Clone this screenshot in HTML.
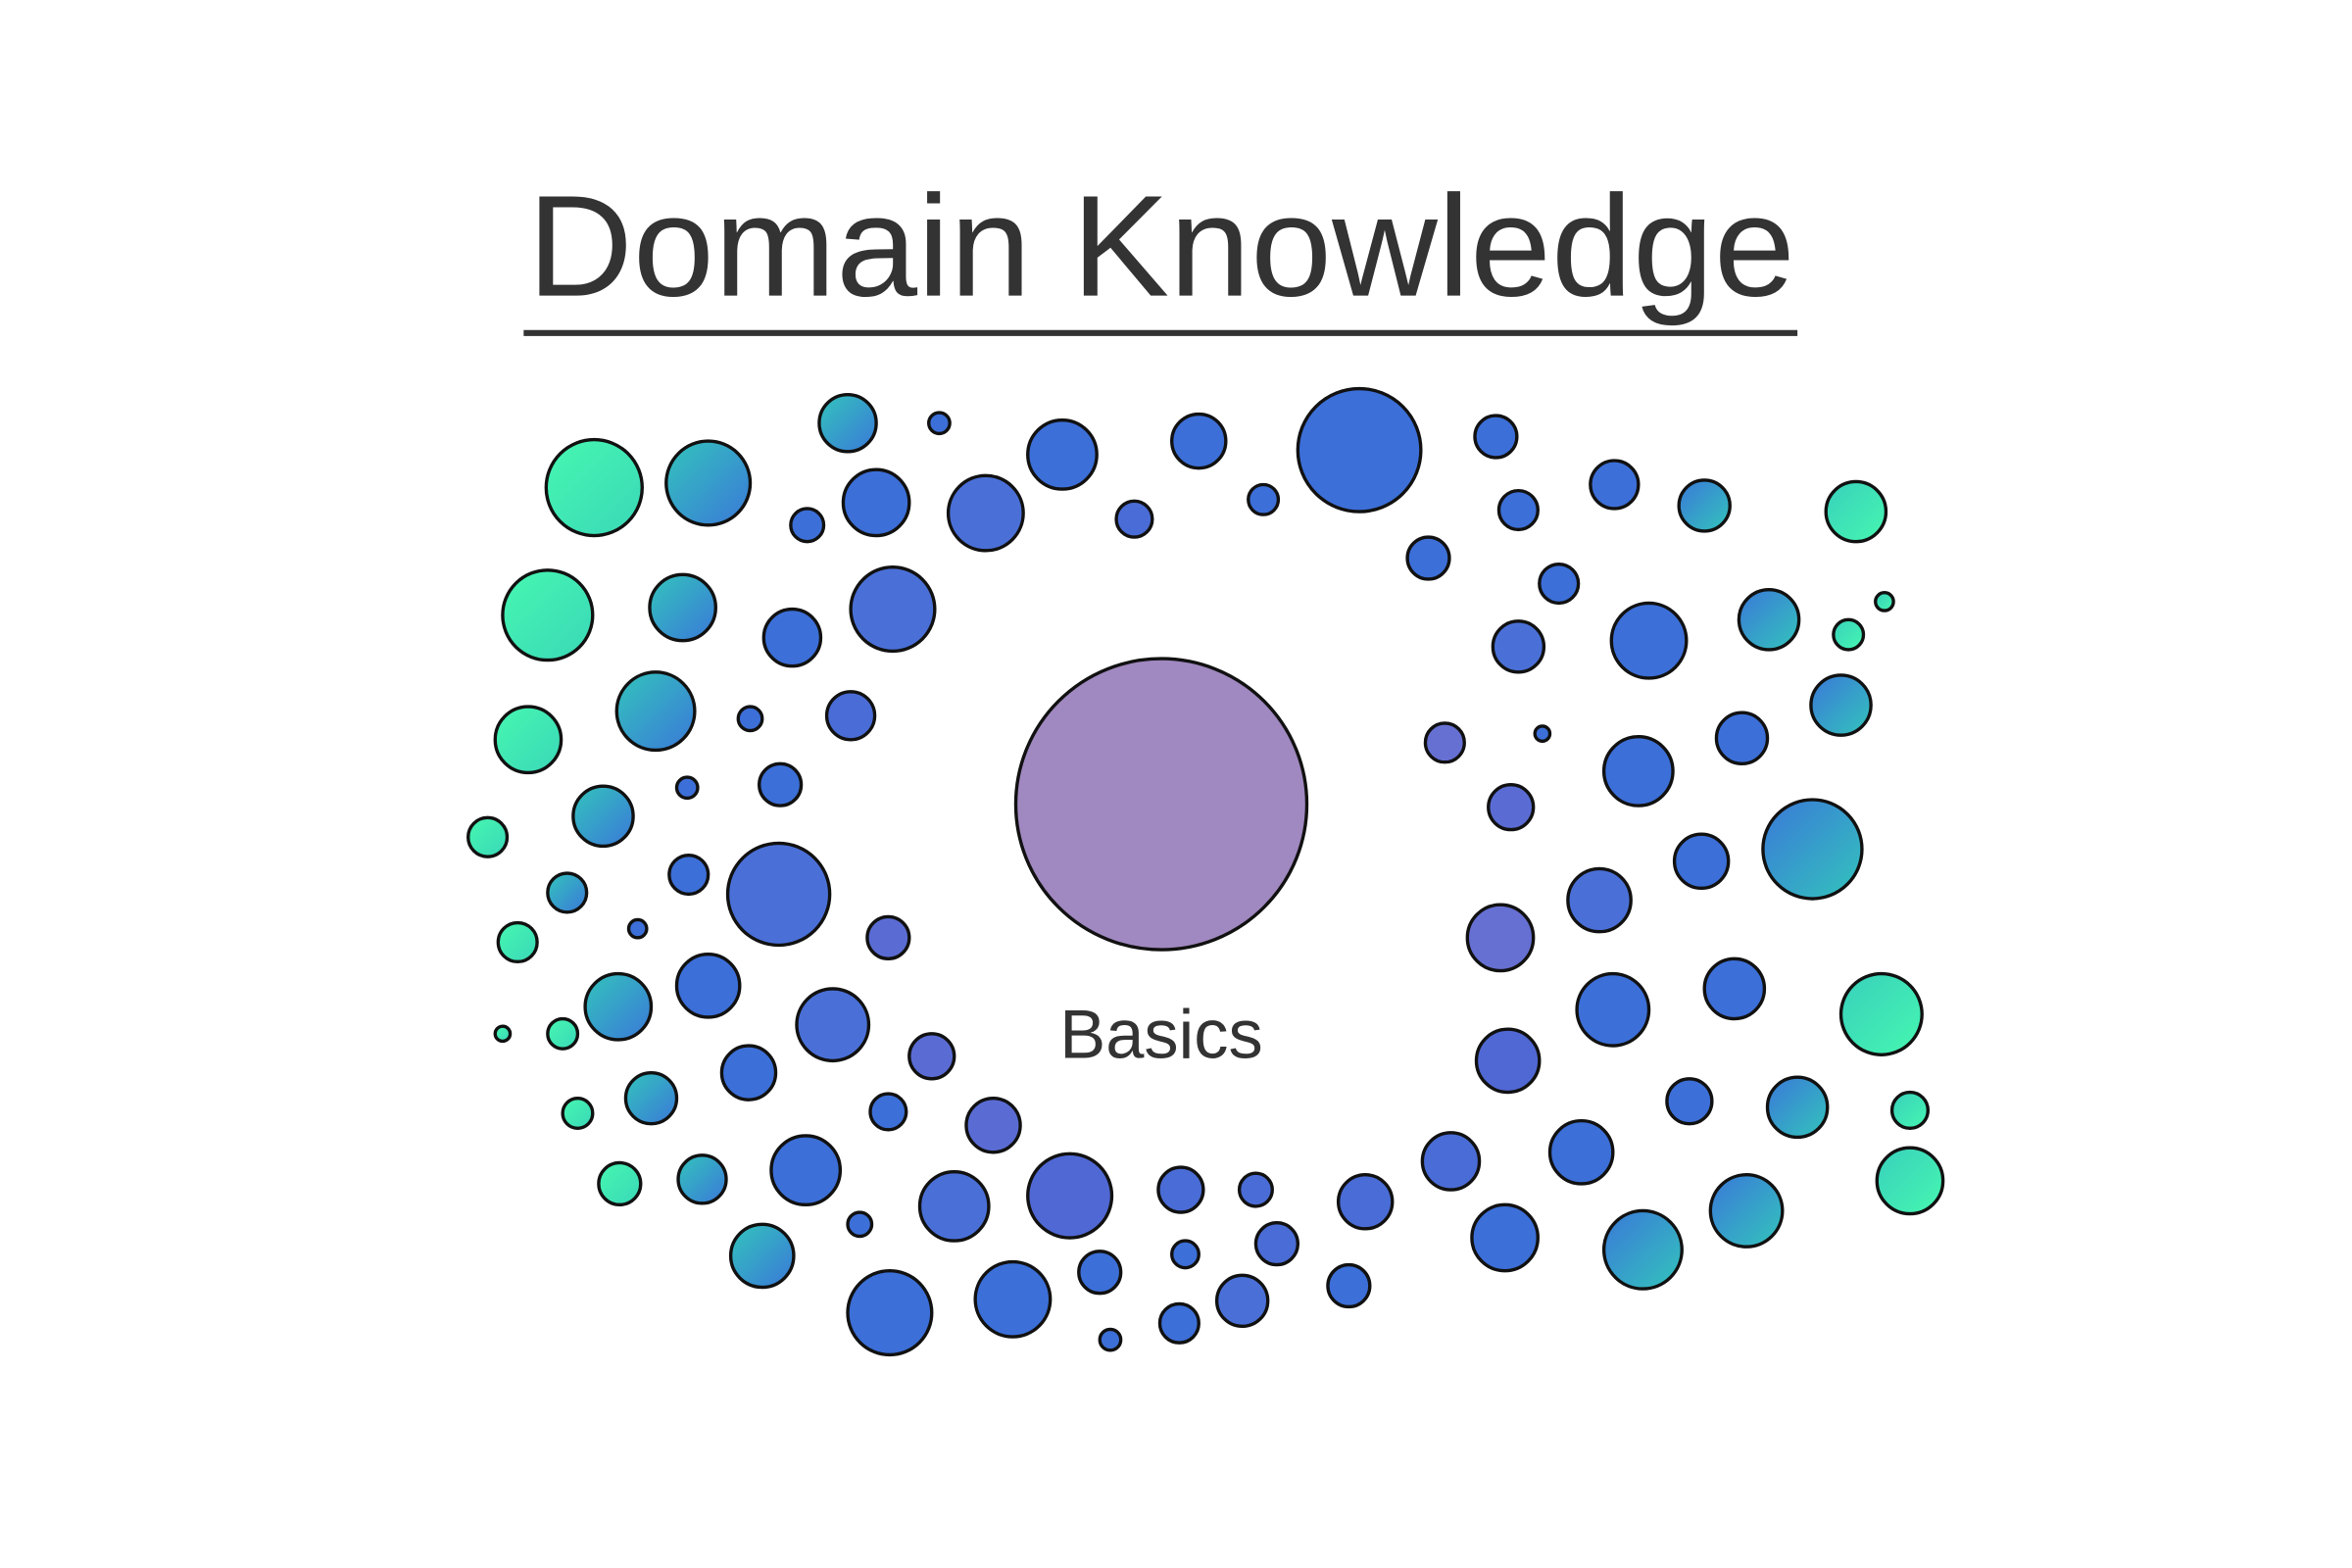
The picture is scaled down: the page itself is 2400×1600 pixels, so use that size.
<!DOCTYPE html>
<html><head><meta charset="utf-8"><style>html,body{margin:0;padding:0;background:#fff;width:2400px;height:1600px;overflow:hidden}svg{display:block}</style></head>
<body>
<svg width="2400" height="1600" viewBox="0 0 1567.6 1045.1" xmlns="http://www.w3.org/2000/svg">
<defs>
<linearGradient id="gL" x1="0" y1="0" x2="1" y2="1"><stop offset="0" stop-color="#46f7b0"/><stop offset="1" stop-color="#3ad8b8"/></linearGradient>
<linearGradient id="tL" x1="0" y1="0" x2="1" y2="1"><stop offset="0" stop-color="#33c4bc"/><stop offset="1" stop-color="#3a78d8"/></linearGradient>
<linearGradient id="tR" x1="1" y1="1" x2="0" y2="0"><stop offset="0" stop-color="#33c4bc"/><stop offset="1" stop-color="#3a78d8"/></linearGradient>
<linearGradient id="gR" x1="1" y1="1" x2="0" y2="0"><stop offset="0" stop-color="#46f7b0"/><stop offset="1" stop-color="#38d0bc"/></linearGradient>
</defs>
<text x="774" y="197" text-anchor="middle" font-family="Liberation Sans, sans-serif" font-size="96" fill="#333" textLength="845" lengthAdjust="spacingAndGlyphs">Domain Knowledge</text>
<line x1="349" y1="222" x2="1198" y2="222" stroke="#333" stroke-width="4"/>
<circle cx="774" cy="536" r="97" fill="#a088c0" stroke="#111" stroke-width="2.2"/>
<text x="774" y="705" text-anchor="middle" font-family="Liberation Sans, sans-serif" font-size="46" fill="#333">Basics</text>
<g stroke="#111" stroke-width="2.2" fill="#3c6fd8">
<circle cx="565" cy="282" r="19" fill="url(#tL)"/><circle cx="626" cy="282" r="7"/><circle cx="708" cy="303" r="23"/><circle cx="799" cy="294" r="18"/><circle cx="906" cy="300" r="41"/><circle cx="997" cy="291" r="14"/>
<circle cx="396" cy="325" r="32" fill="url(#gL)"/><circle cx="472" cy="322" r="28" fill="url(#tL)"/><circle cx="538" cy="350" r="11"/><circle cx="584" cy="335" r="22"/><circle cx="657" cy="342" r="25" fill="#4a70d8"/><circle cx="756" cy="346" r="12" fill="#4a6cd6"/><circle cx="842" cy="333" r="10"/><circle cx="1012" cy="340" r="13"/><circle cx="1076" cy="323" r="16"/><circle cx="1136" cy="337" r="17" fill="url(#tR)"/><circle cx="1237" cy="341" r="20" fill="url(#gR)"/>
<circle cx="365" cy="410" r="30" fill="url(#gL)"/><circle cx="455" cy="405" r="22" fill="url(#tL)"/><circle cx="528" cy="425" r="19"/><circle cx="595" cy="406" r="28" fill="#4a70d8"/><circle cx="952" cy="372" r="14"/><circle cx="1039" cy="389" r="13"/><circle cx="1012" cy="431" r="17" fill="#4a70d8"/><circle cx="1099" cy="427" r="25"/><circle cx="1179" cy="413" r="20" fill="url(#tR)"/><circle cx="1232" cy="423" r="10" fill="url(#gR)"/><circle cx="1256" cy="401" r="6" fill="url(#gR)"/>
<circle cx="352" cy="493" r="22" fill="url(#gL)"/><circle cx="437" cy="474" r="26" fill="url(#tL)"/><circle cx="500" cy="479" r="8"/><circle cx="567" cy="477" r="16" fill="#4a6cd6"/><circle cx="1227" cy="470" r="20" fill="url(#tR)"/><circle cx="963" cy="495" r="13" fill="#6670d2"/><circle cx="1028" cy="489" r="5"/><circle cx="1092" cy="514" r="23"/><circle cx="1161" cy="492" r="17"/>
<circle cx="325" cy="558" r="13" fill="url(#gL)"/><circle cx="402" cy="544" r="20" fill="url(#tL)"/><circle cx="458" cy="525" r="7"/><circle cx="520" cy="523" r="14"/><circle cx="1007" cy="538" r="15" fill="#5a6cd4"/><circle cx="1208" cy="566" r="33" fill="url(#tR)"/>
<circle cx="378" cy="595" r="13" fill="url(#tL)"/><circle cx="459" cy="583" r="13"/><circle cx="519" cy="596" r="34" fill="#4a70d8"/><circle cx="1134" cy="574" r="18"/><circle cx="1066" cy="600" r="21" fill="#4a70d8"/>
<circle cx="345" cy="628" r="13" fill="url(#gL)"/><circle cx="425" cy="619" r="6"/><circle cx="592" cy="625" r="14" fill="#5a6cd4"/><circle cx="1000" cy="625" r="22" fill="#6670d2"/>
<circle cx="412" cy="671" r="22" fill="url(#tL)"/><circle cx="472" cy="657" r="21"/><circle cx="555" cy="683" r="24" fill="#4a70d8"/><circle cx="1075" cy="673" r="24"/><circle cx="1156" cy="659" r="20"/><circle cx="1254" cy="676" r="27" fill="url(#gR)"/>
<circle cx="335" cy="689" r="5" fill="url(#gL)"/><circle cx="375" cy="689" r="10" fill="url(#gL)"/><circle cx="621" cy="704" r="15" fill="#5a6cd4"/><circle cx="499" cy="715" r="18"/><circle cx="1005" cy="707" r="21" fill="#5068d4"/>
<circle cx="385" cy="742" r="10" fill="url(#gL)"/><circle cx="434" cy="732" r="17" fill="url(#tL)"/><circle cx="592" cy="741" r="12"/><circle cx="662" cy="750" r="18" fill="#5a6cd4"/><circle cx="1126" cy="734" r="15"/><circle cx="1198" cy="738" r="20" fill="url(#tR)"/><circle cx="1273" cy="740" r="12" fill="url(#gR)"/>
<circle cx="413" cy="789" r="14" fill="url(#gL)"/><circle cx="468" cy="786" r="16" fill="url(#tL)"/><circle cx="537" cy="780" r="23"/><circle cx="636" cy="804" r="23" fill="#4a70d8"/><circle cx="713" cy="797" r="28" fill="#5068d4"/><circle cx="787" cy="793" r="15" fill="#4a6cd6"/><circle cx="837" cy="793" r="11" fill="#4a6cd6"/><circle cx="910" cy="801" r="18" fill="#4a6cd6"/><circle cx="967" cy="774" r="19" fill="#4a6cd6"/><circle cx="1054" cy="768" r="21"/><circle cx="1164" cy="807" r="24" fill="url(#tR)"/><circle cx="1273" cy="787" r="22" fill="url(#gR)"/>
<circle cx="508" cy="837" r="21" fill="url(#tL)"/><circle cx="573" cy="816" r="8"/><circle cx="733" cy="848" r="14"/><circle cx="790" cy="836" r="9"/><circle cx="851" cy="829" r="14" fill="#4a6cd6"/><circle cx="899" cy="857" r="14"/><circle cx="1003" cy="825" r="22"/><circle cx="1095" cy="833" r="26" fill="url(#tR)"/>
<circle cx="593" cy="875" r="28"/><circle cx="675" cy="866" r="25"/><circle cx="740" cy="893" r="7"/><circle cx="786" cy="882" r="13"/><circle cx="828" cy="867" r="17" fill="#4a70d8"/>
</g>
</svg>
</body></html>
